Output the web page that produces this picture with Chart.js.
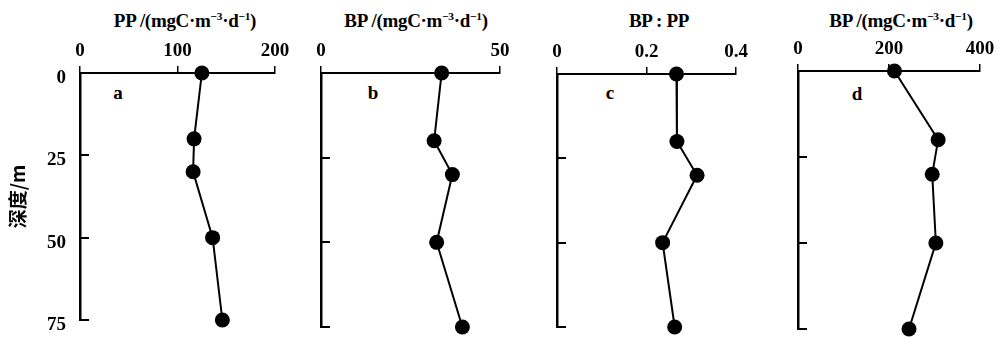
<!DOCTYPE html>
<html><head><meta charset="utf-8">
<script src="https://cdn.jsdelivr.net/npm/chart.js@4/dist/chart.umd.min.js"></script>
<style>
body{margin:0;background:#fff;width:1004px;height:338px;overflow:hidden;position:relative;font-family:"Liberation Serif",serif;color:#000}
canvas{position:absolute;left:0;top:0}
.t{position:absolute;font-weight:bold;font-size:19px;white-space:nowrap;transform:translate(-50%,-50%);line-height:1;letter-spacing:-0.3px}
.t sup{font-size:0.6em;vertical-align:0.6em;line-height:0}
.l{position:absolute;font-weight:bold;font-size:19px;transform:translate(-50%,-50%);line-height:1}
</style></head><body>
<div class="t" style="left:185px;top:20px">PP /(mgC·m<sup>−3</sup>·d<sup>−1</sup>)</div>
<div class="t" style="left:416px;top:20px">BP /(mgC·m<sup>−3</sup>·d<sup>−1</sup>)</div>
<div class="t" style="left:659px;top:20px">BP : PP</div>
<div class="t" style="left:901px;top:20px">BP /(mgC·m<sup>−3</sup>·d<sup>−1</sup>)</div>
<div class="l" style="left:118px;top:92px">a</div>
<div class="l" style="left:373px;top:92px">b</div>
<div class="l" style="left:610px;top:92px">c</div>
<div class="l" style="left:857px;top:93px">d</div>
<canvas id="ca" width="1004" height="338"></canvas>
<canvas id="cb" width="1004" height="338"></canvas>
<canvas id="cc" width="1004" height="338"></canvas>
<canvas id="cd" width="1004" height="338"></canvas>
<script>
// Depths (m) for all panels
const depths = [0, 20, 30, 50, 75];
const yTicks = [0, 25, 50, 75];
// a: PP (mgC m-3 d-1)
const ppValues = [125, 117, 116, 136, 146];
// b: BP (mgC m-3 d-1)
const bpValues = [33.7, 31.6, 36.7, 32.3, 39.5];
// c: BP : PP
const ratioValues = [0.267, 0.268, 0.313, 0.236, 0.263];
// d: BP (mgC m-3 d-1)
const bp2Values = [212, 308, 295, 303, 244];
// x tick labels
const xTicksA = [0, 100, 200];
const xTicksB = [0, 50];
const xTicksC = [0, 0.2, 0.4];
const xTicksD = [0, 200, 400];

const innerTicks = {
  id: 'innerTicks',
  afterDraw(chart, args, opts) {
    const y = chart.scales.y, x = chart.scales.x, ctx = chart.ctx;
    ctx.save();
    ctx.strokeStyle = '#000';
    ctx.lineWidth = 2;
    y.ticks.forEach(t => {
      if (t.value === 0) return;
      const py = Math.round(y.getPixelForValue(t.value));
      ctx.beginPath();
      ctx.moveTo(x.left, py);
      ctx.lineTo(x.left + opts.len, py);
      ctx.stroke();
    });
    ctx.restore();
  }
};

const serif = '"Liberation Serif", "Times New Roman", serif';

function makePanel(id, vals, xt, xmax, box, withLabels) {
  const yW = withLabels ? 80 : 10;
  const xH = 40;
  new Chart(document.getElementById(id), {
    type: 'scatter',
    data: {
      datasets: [{
        data: vals.map((v, i) => ({ x: v, y: depths[i] })),
        showLine: true,
        borderColor: '#000',
        borderWidth: 2,
        pointRadius: 7.5,
        pointBackgroundColor: '#000',
        pointBorderWidth: 0,
        clip: false,
        tension: 0
      }]
    },
    options: {
      responsive: false,
      animation: false,
      events: [],
      layout: {
        padding: { left: box.L - yW, right: 1004 - box.R, top: box.T - xH, bottom: 338 - box.B }
      },
      plugins: { legend: { display: false }, tooltip: { enabled: false }, innerTicks: { len: 9 } },
      scales: {
        x: {
          type: 'linear', position: 'top', min: 0, max: xmax,
          afterBuildTicks: s => { s.ticks = xt.map(v => ({ value: v })); },
          afterFit: s => { s.height = xH; s.paddingLeft = 0; s.paddingRight = 0; },
          ticks: {
            color: '#000', padding: 4, maxRotation: 0, autoSkip: false,
            font: { family: serif, size: 19, weight: 'bold' },
            callback: v => String(v)
          },
          grid: { display: true, drawOnChartArea: false, drawTicks: true, tickLength: 7, color: '#000', lineWidth: 1.5 },
          border: { display: true, color: '#000', width: 2 }
        },
        y: {
          type: 'linear', reverse: true, min: 0, max: 75,
          afterBuildTicks: s => { s.ticks = yTicks.map(v => ({ value: v })); },
          afterFit: s => { s.width = yW; s.paddingTop = 0; s.paddingBottom = 0; },
          ticks: {
            display: withLabels, color: '#000', padding: 14, labelOffset: 5,
            font: { family: serif, size: 19, weight: 'bold' },
            callback: v => String(v)
          },
          title: {
            display: withLabels, text: '深度/m', color: '#000',
            font: { family: '"Noto Sans CJK SC", sans-serif', size: 19, weight: 'bold' },
            padding: { top: 6, bottom: 0 }
          },
          grid: { display: true, drawOnChartArea: false, drawTicks: false, color: '#000' },
          border: { display: true, color: '#000', width: 2.5 }
        }
      }
    },
    plugins: [innerTicks]
  });
}

makePanel('ca', ppValues, xTicksA, 200, { L: 80, R: 275, T: 73, B: 320 }, true);
makePanel('cb', bpValues, xTicksB, 50, { L: 321, R: 500, T: 73, B: 327 }, false);
makePanel('cc', ratioValues, xTicksC, 0.4, { L: 557, R: 736, T: 74, B: 327 }, false);
makePanel('cd', bp2Values, xTicksD, 400, { L: 798, R: 980, T: 71, B: 329 }, false);
</script>
</body></html>
